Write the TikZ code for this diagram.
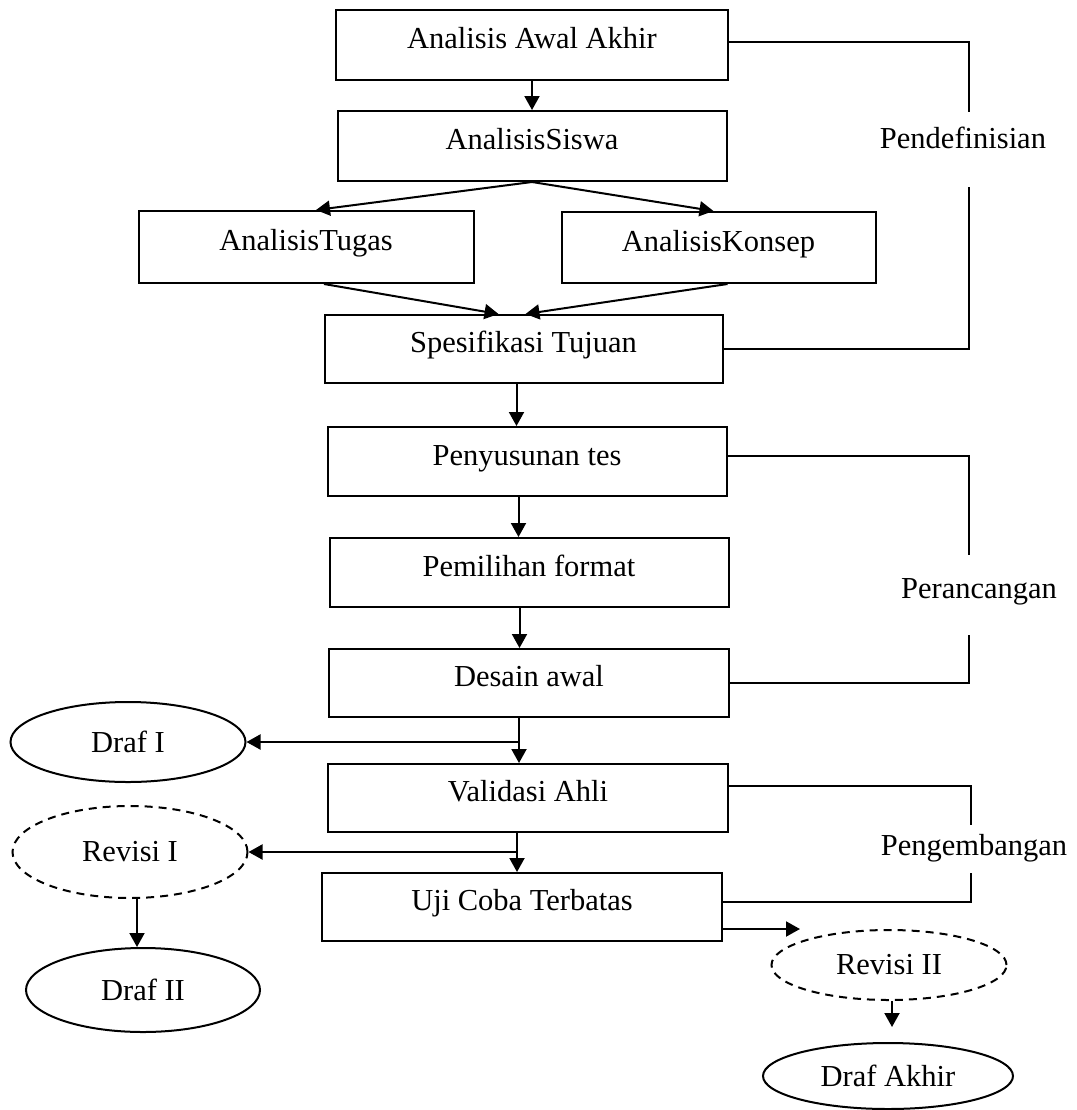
\documentclass[tikz,border=0pt]{standalone}
\usepackage{fontspec}
\setmainfont{Liberation Serif}
\usetikzlibrary{arrows.meta, positioning, shapes.geometric}
\tikzset{
  stage/.style={draw, line width=1pt, minimum width=#1, minimum height=34.5pt,
                inner sep=0pt, text height=0.7em, text depth=0.31em},
  stage/.default=199.5pt,
  doc/.style={draw, ellipse, line width=1pt, inner sep=0pt,
              minimum width=117.5pt},
  docrev/.style={doc, dash pattern=on 4pt off 3pt},
  arrow/.style={-{Triangle[width=7.5pt,length=7pt]}, line width=1pt},
  bracket/.style={line width=1pt},
  phase/.style={anchor=base, inner sep=0pt},
}
\begin{document}
\begin{tikzpicture}[x=0.5pt, y=-0.5pt, font=\fontsize{15.25}{18}\selectfont]
  \useasboundingbox (0,0) rectangle (1077,1110);

  % Pendefinisian
  \node[stage=196pt, minimum height=35pt] (awal) at (532,45) {Analisis Awal Akhir};
  \node[stage=194.5pt, minimum height=35pt, below=14.5pt of awal]
    (siswa) {AnalisisSiswa};
  \node[stage=167.5pt, minimum height=36pt, below=14pt of siswa, xshift=-113pt]
    (tugas) {AnalisisTugas};
  \node[stage=157pt, minimum height=35.5pt, below=14.5pt of siswa, xshift=93.25pt]
    (konsep) {AnalisisKonsep};
  \node[stage=199pt, minimum height=34pt, below=66pt of siswa, xshift=-4.25pt]
    (spek) {Spesifikasi Tujuan};

  % Perancangan
  \node[stage, below=21pt of spek, xshift=1.75pt] (susun) {Penyusunan tes};
  \node[stage, below=20pt of susun, xshift=1pt] (pilih) {Pemilihan format};
  \node[stage=200pt, minimum height=34pt, below=20pt of pilih] (desain) {Desain awal};

  % Pengembangan
  \node[stage=200pt, minimum height=34pt, below=22.5pt of desain, xshift=-0.5pt]
    (valid) {Validasi Ahli};
  \node[stage=200pt, minimum height=34pt, below=19.5pt of valid, xshift=-3pt]
    (uji) {Uji Coba Terbatas};

  % Draf dan revisi
  \node[doc, minimum height=40pt] (draf1) at (128,742) {Draf I};
  \node[docrev, minimum height=46pt] (revisi1) at (130,852) {Revisi I};
  \node[doc, minimum width=117pt, minimum height=42pt] (draf2) at (143,990) {Draf II};
  \node[docrev, minimum height=35pt] (revisi2) at (889,965) {Revisi II};
  \node[doc, minimum width=125pt, minimum height=33pt] (akhir) at (888,1076) {Draf Akhir};

  % Tahap
  \node[phase] (pendef) at (963,148) {Pendefinisian};
  \node[phase] (peranc) at (979,598) {Perancangan};
  \node[phase] (pengemb) at (974,855) {Pengembangan};
  \coordinate (pd1) at (969,112);
  \coordinate (pd2) at (969,187);
  \coordinate (pr1) at (969,555);
  \coordinate (pr2) at (969,635);
  \coordinate (pg1) at (971,825);
  \coordinate (pg2) at (971,873);

  \draw[bracket] ([yshift=1.5pt]awal.east) -| (pd1);
  \draw[bracket] (pd2) |- (spek.east);
  \draw[bracket] ([yshift=3pt]susun.east) -| (pr1);
  \draw[bracket] (pr2) |- (desain.east);
  \draw[bracket] ([yshift=6pt]valid.east) -| (pg1);
  \draw[bracket] (pg2) |- ([yshift=2.5pt]uji.east);

  \draw[arrow] (awal) -- (siswa);
  \draw[arrow] (siswa.south) -- ([xshift=5pt]tugas.north);
  \draw[arrow] (siswa.south) -- ([xshift=-2.5pt]konsep.north);
  \draw[arrow] ([xshift=9pt]tugas.south) -- ([xshift=-12.5pt]spek.north);
  \draw[arrow] ([xshift=4.5pt]konsep.south) -- ([xshift=1pt]spek.north);
  \foreach \a/\b/\s in {spek/susun/-3.5, susun/pilih/-4.25, pilih/desain/-4.75,
                        desain/valid/-5, valid/uji/-5.5}
    \draw[arrow] ([xshift=\s pt]\a.south) -- ([xshift=\s pt]\a.south |- \b.north);

  \draw[arrow] ([xshift=-5pt]desain.south |- draf1.east) -- (draf1.east);
  \draw[arrow] ([xshift=-5.5pt]valid.south |- revisi1.east) -- (revisi1.east);
  \draw[arrow] ([xshift=3.5pt]revisi1.south) -- ([xshift=3.5pt]revisi1.south |- draf2.north);
  \draw[arrow] (uji.east |- revisi2.north) -- ([xshift=-44.5pt]revisi2.north);
  \draw[arrow, shorten >=7.5pt] ([xshift=1.5pt]revisi2.south)
    -- ([xshift=1.5pt]revisi2.south |- akhir.north);

\end{tikzpicture}
\end{document}
